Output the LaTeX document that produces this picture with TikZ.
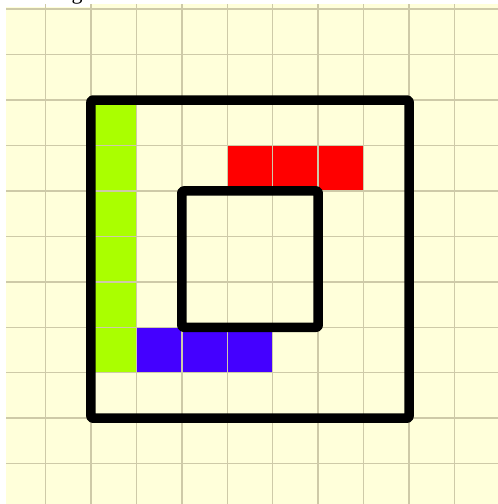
\documentclass[tikz,border=0pt]{standalone}
\usepackage{fontspec}
\setmainfont{Liberation Serif}
\definecolor{bgyellow}{RGB}{255,255,218}
\definecolor{gridtan}{RGB}{206,202,168}
\definecolor{limeg}{RGB}{170,255,0}
\definecolor{redc}{RGB}{255,0,0}
\definecolor{bluec}{RGB}{68,0,255}
\tikzset{
  gridline/.style={draw=gridtan, line width=1.4pt},
  squareline/.style={draw=black, line width=9.5pt, line join=round, rounded corners=2pt},
}
\begin{document}
\begin{tikzpicture}[x=1pt,y=-1pt]
\useasboundingbox (0,0) rectangle (498,504);
\fill[white] (0,0) rectangle (498,504);
\fill[bgyellow] (6,4) rectangle (498,504);
\fill[white] (0,0) rectangle (90,7);
\node[anchor=base, inner sep=0pt, font=\fontsize{22}{26}\selectfont] (title) at (77,-0.5) {g};
% coloured cells
\fill[limeg] (90.9,100) rectangle (136.4,372.7);
\fill[redc] (227.3,145.5) rectangle (363.6,190.9);
\fill[bluec] (136.4,327.3) rectangle (272.7,372.7);
% grid
\foreach \k in {1,...,10} {
  \draw[gridline] ({45.45*\k},4) -- ({45.45*\k},504);
}
\foreach \k in {0,...,10} {
  \draw[gridline] (6,{9.1+45.45*\k}) -- (498,{9.1+45.45*\k});
}
% squares
\draw[squareline] (90.9,100) rectangle (409.1,418.2);
\draw[squareline] (181.8,190.9) rectangle (318.2,327.3);
\end{tikzpicture}
\end{document}
